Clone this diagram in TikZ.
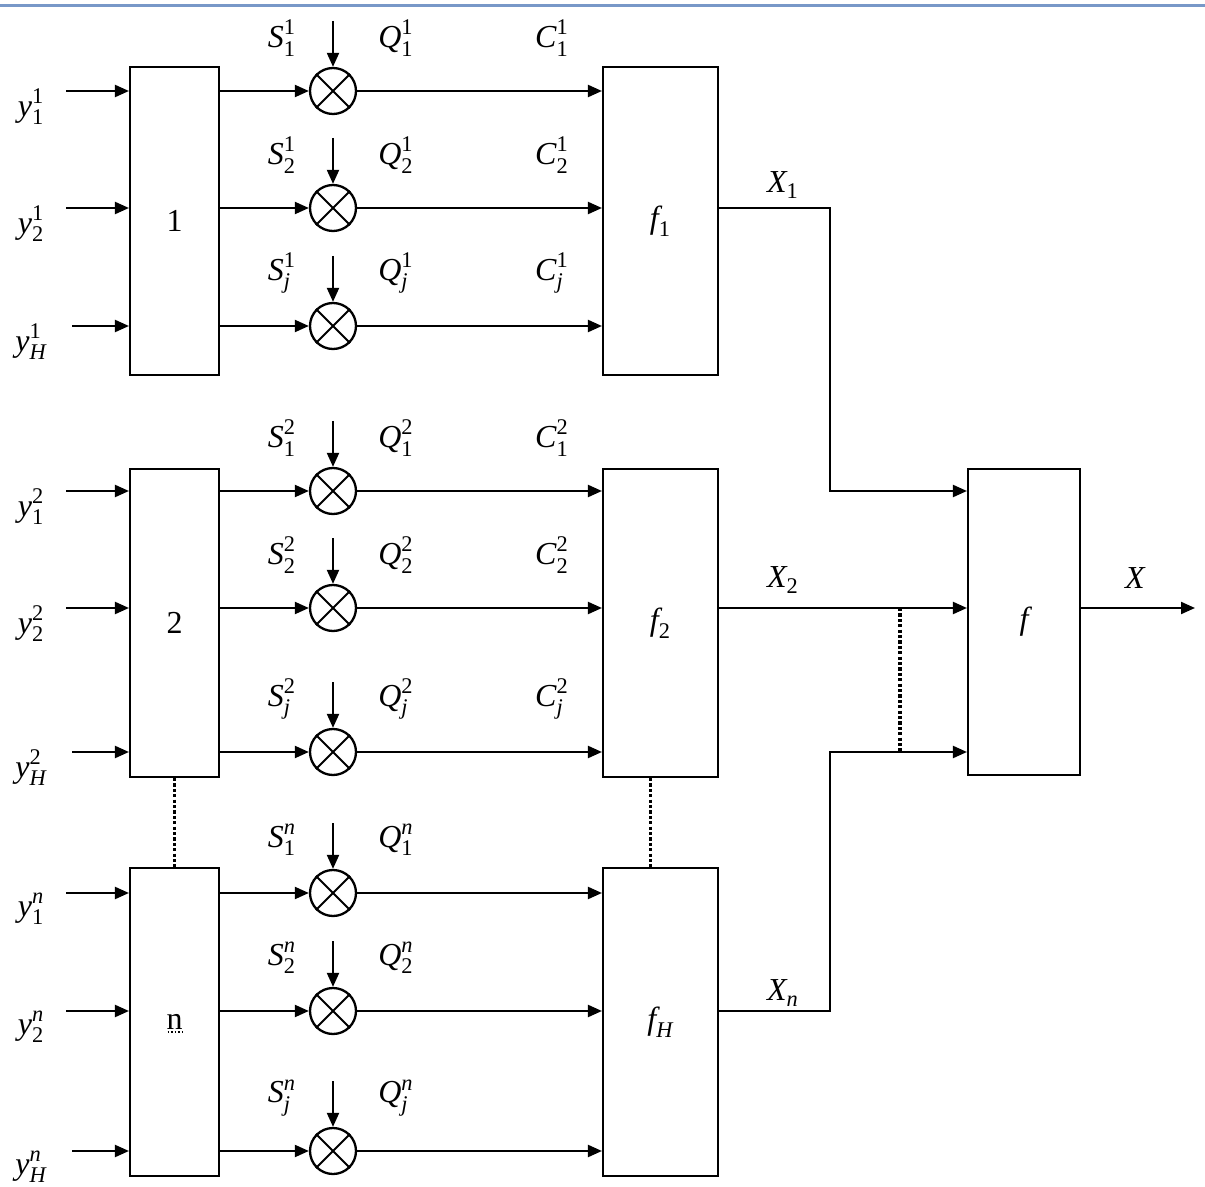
\documentclass[tikz,border=0pt]{standalone}
\usepackage{amsmath}
\usepackage{fontspec}
\setmainfont{Liberation Serif}
\usetikzlibrary{arrows.meta,calc}
\definecolor{topline}{RGB}{120,152,200}
% upright / italic pieces for indices
\newcommand\tu[1]{\textup{#1}}
\newcommand\ti[1]{\textit{#1}}
% italic symbol with super- and subscript
\newcommand\lab[3]{$\ti{#1}^{#2}_{#3}$}
\begin{document}
\begin{tikzpicture}[x=0.5pt,y=-0.5pt,
  every node/.style={font=\fontsize{16}{19}\selectfont},
  wire/.style={line width=1.05pt},
  flow/.style={wire,-{Triangle[length=7pt,width=6pt]}},
  inblk/.style={draw,line width=1.05pt,minimum width=44.5pt,minimum height=154pt,inner sep=0pt},
  fblk/.style={draw,line width=1.05pt,minimum width=57.5pt,minimum height=154pt,inner sep=0pt},
  outblk/.style={draw,line width=1.05pt,minimum width=56pt,minimum height=153pt,inner sep=0pt},
  mul/.style={draw,circle,line width=1.15pt,minimum size=23pt,inner sep=0pt},
  gap/.style={line width=1.7pt,dash pattern=on 1.6pt off 1.1pt},
  ndots/.style={line width=0.7pt,dash pattern=on 0.7pt off 1.1pt},
]
\useasboundingbox (0,0) rectangle (1205,1187);
\draw[topline,line width=1.3pt] (0,5.5) -- (1205,5.5);

% three channel groups: distribution block, multipliers, combining block
\foreach \g/\top/\ya/\yb/\yc/\sup/\fsub in
  {1/67/91/208/326/\tu{1}/\tu{1},
   2/469/491/608/752/\tu{2}/\tu{2},
   n/868/893/1011/1151/\ti{n}/\ti{H}}{
  \node[inblk] (b\g) at (174.5,{\top+154}) {\g};
  \node[fblk] (f\g) at (660.5,{\top+154}) {$\ti{f}_{\fsub}$};
  \foreach \r/\y/\sub/\ysub/\xs in
    {1/\ya/\tu{1}/\tu{1}/66, 2/\yb/\tu{2}/\tu{2}/66, 3/\yc/\ti{j}/\ti{H}/72}{
    \coordinate (in\g\r) at (\xs,\y);
    \node[mul] (m\g\r) at (333,\y) {};
    \draw[wire] (m\g\r.north west) -- (m\g\r.south east)
                (m\g\r.north east) -- (m\g\r.south west);
    \coordinate (s\g\r) at (333,{\y-70});
    \draw[flow] (in\g\r) -- (b\g.west |- in\g\r);
    \draw[flow] (b\g.east |- m\g\r) -- (m\g\r);
    \draw[flow] (s\g\r) -- (m\g\r);
    \draw[flow] (m\g\r) -- (f\g.west |- m\g\r);
    \node (ly\g\r) at (31,{\y+16}) {\lab{y}{\sup}{\ysub}};
    \node (ls\g\r) at (282,{\y-53}) {\lab{S}{\sup}{\sub}};
    \node (lq\g\r) at (396,{\y-53}) {\lab{Q}{\sup}{\sub}};
  }
}

% coefficient labels of the first two groups
\foreach \g/\sup/\ya/\yb/\yc in {1/\tu{1}/91/208/326, 2/\tu{2}/491/608/752}{
  \node (lc\g1) at (552,{\ya-53}) {\lab{C}{\sup}{\tu{1}}};
  \node (lc\g2) at (552,{\yb-53}) {\lab{C}{\sup}{\tu{2}}};
  \node (lc\g3) at (552,{\yc-53}) {\lab{C}{\sup}{\ti{j}}};
}

% dotted mark under the block label n
\draw[ndots] ($(bn.center)+(-7,10)$) -- ($(bn.center)+(8,10)$);

% omitted groups between 2 and n
\draw[gap] (b2.south) -- (bn.north);
\draw[gap] ([xshift=-5pt]f2.south) -- ([xshift=-5pt]fn.north);

% final combining block
\node[outblk] (ff) at (1024,622) {$\ti{f}$};
\coordinate (j1) at (830,0);
\coordinate (dj) at (900,0);
\coordinate (xout) at (1195,0);
\draw[flow] (f1.east |- m12) -| (j1 |- m21) -- (ff.west |- m21);
\draw[flow] (f2.east |- m22) -- (ff.west |- m22);
\draw[flow] (fn.east |- mn2) -| (j1 |- m23) -- (ff.west |- m23);
\draw[gap] (dj |- m22) -- (dj |- m23);
\draw[flow] (ff.east |- m22) -- (xout |- m22);

\node (lx1) at (783,185) {$\ti{X}_{\tu{1}}$};
\node (lx2) at (783,580) {$\ti{X}_{\tu{2}}$};
\node (lxn) at (783,993) {$\ti{X}_{\ti{n}}$};
\node (lx) at (1135,578) {$\ti{X}$};
\end{tikzpicture}
\end{document}
